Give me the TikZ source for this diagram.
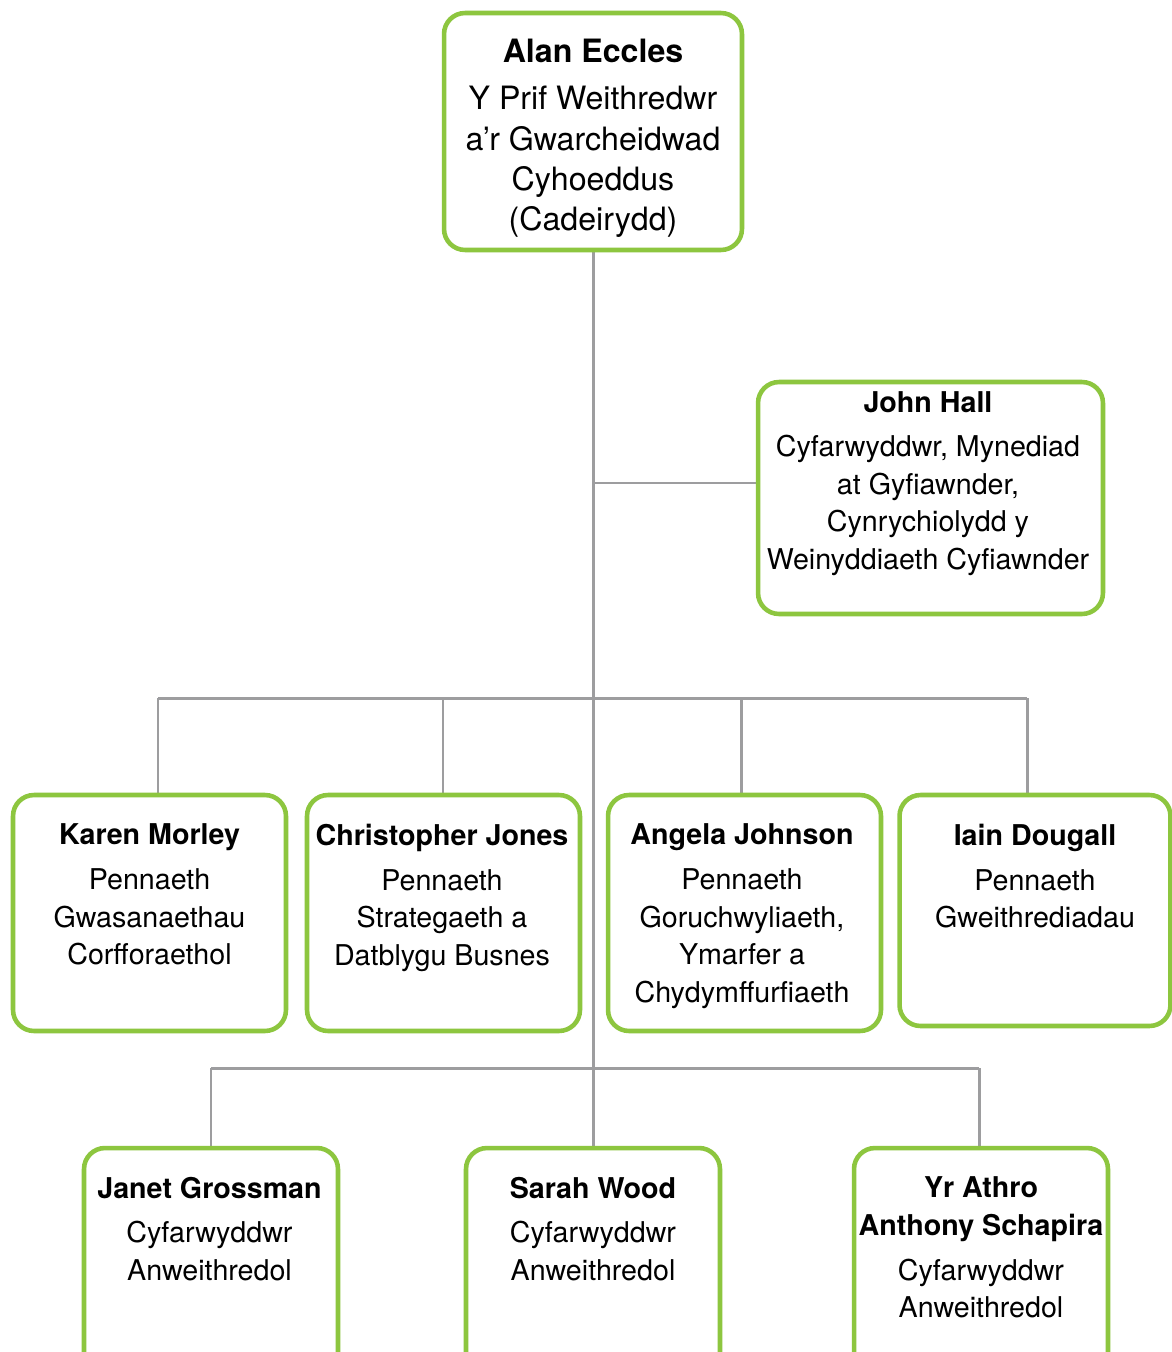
\documentclass[tikz,border=0pt]{standalone}
\usepackage{fontspec}
\setmainfont{TeX Gyre Heros}
\usetikzlibrary{positioning,backgrounds}
\definecolor{boxgreen}{HTML}{8DC63F}
\definecolor{linegray}{HTML}{9D9D9F}

\begin{document}
\begin{tikzpicture}[x=0.02cm,y=-0.02cm,
  box/.style={draw=boxgreen, line width=2.6pt, rounded corners=0.42cm, fill=white},
  txt/.style={anchor=north, align=center, inner sep=0pt, font=\fontsize{16.3}{21.4}\selectfont},
  bigtxt/.style={txt, font=\fontsize{18.3}{22.8}\selectfont},
  link/.style={draw=linegray, line width=1.7pt}]
\useasboundingbox (0,0) rectangle (1172,1352);
\clip (0,0) rectangle (1172,1352);

% boxes
\node[box, minimum width=5.96cm, minimum height=4.74cm] (alan) at (593,131.5) {};
\node[box, minimum width=6.9cm, minimum height=4.64cm] (john) at (930.5,498) {};
\node[box, minimum width=5.46cm, minimum height=4.72cm] (karen) at (149.5,913) {};
\node[box, minimum width=5.46cm, minimum height=4.72cm] (chris) at (443.5,913) {};
\node[box, minimum width=5.46cm, minimum height=4.72cm] (angela) at (744.5,913) {};
\node[box, minimum width=5.42cm, minimum height=4.62cm] (iain) at (1035,910.5) {};
\node[box, minimum width=5.08cm, minimum height=5.2cm] (janet) at (211,1278) {};
\node[box, minimum width=5.08cm, minimum height=5.2cm] (sarah) at (593,1278) {};
\node[box, minimum width=5.08cm, minimum height=5.2cm] (athro) at (981,1278) {};

% texts
\node[bigtxt] (alant) at ([yshift=-0.55cm]alan.north) {\textbf{Alan Eccles}\\[4.5pt] Y Prif Weithredwr\\ a’r Gwarcheidwad\\ Cyhoeddus\\ (Cadeirydd)};
\node[txt] (johnt) at ([xshift=-0.05cm,yshift=-0.24cm]john.north) {\textbf{John Hall}\\[3.5pt] Cyfarwyddwr, Mynediad\\ at Gyfiawnder,\\ Cynrychiolydd y\\ Weinyddiaeth Cyfiawnder};
\node[txt] (karent) at ([yshift=-0.62cm]karen.north) {\textbf{Karen Morley}\\[4pt] Pennaeth\\ Gwasanaethau\\ Corfforaethol};
\node[txt] (christ) at ([xshift=-0.03cm,yshift=-0.62cm]chris.north) {\textbf{Christopher Jones}\\[4pt] Pennaeth\\ Strategaeth a\\ Datblygu Busnes};
\node[txt] (angelat) at ([xshift=-0.05cm,yshift=-0.62cm]angela.north) {\textbf{Angela Johnson}\\[4pt] Pennaeth\\ Goruchwyliaeth,\\ Ymarfer a\\ Chydymffurfiaeth};
\node[txt] (iaint) at ([yshift=-0.62cm]iain.north) {\textbf{Iain Dougall}\\[4pt] Pennaeth\\ Gweithrediadau};
\node[txt] (janett) at ([xshift=-0.03cm,yshift=-0.62cm]janet.north) {\textbf{Janet Grossman}\\[4pt] Cyfarwyddwr\\ Anweithredol};
\node[txt] (saraht) at ([yshift=-0.62cm]sarah.north) {\textbf{Sarah Wood}\\[4pt] Cyfarwyddwr\\ Anweithredol};
\node[txt] (athrot) at ([yshift=-0.62cm]athro.north) {\textbf{Yr Athro}\\ \textbf{Anthony Schapira}\\[4pt] Cyfarwyddwr\\ Anweithredol};

% connectors
\begin{scope}[on background layer]
\fill[white] (0,0) rectangle (1172,1352);
\coordinate (jh) at (593,483);
\coordinate (midl) at (158,698);
\coordinate (midr) at (1027,698);
\coordinate (chrisb) at (443,698);
\coordinate (angelab) at (741,698);
\coordinate (lowl) at (211,1068);
\coordinate (lowr) at (979,1068);
\draw[link] (alan) -- (sarah);
\draw[link] (jh) -- (jh -| john.west);
\draw[link] (midl) -- (midr);
\draw[link] (midl) -- (midl |- karen.north);
\draw[link] (chrisb) -- (chrisb |- chris.north);
\draw[link] (angelab) -- (angelab |- angela.north);
\draw[link] (midr) -- (midr |- iain.north);
\draw[link] (lowl) -- (lowr);
\draw[link] (lowl) -- (lowl |- janet.north);
\draw[link] (lowr) -- (lowr |- athro.north);
\end{scope}
\end{tikzpicture}
\end{document}
